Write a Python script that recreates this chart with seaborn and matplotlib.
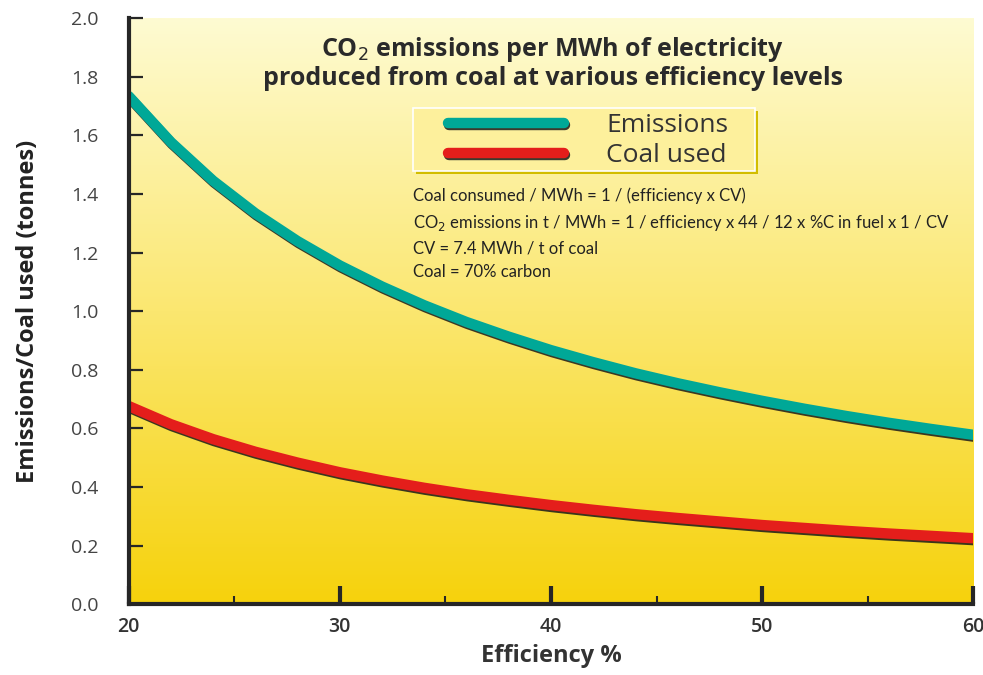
import numpy as np
import pandas as pd
import matplotlib
matplotlib.use("Agg")
import matplotlib.pyplot as plt
import matplotlib.patheffects as pe
from matplotlib.colors import LinearSegmentedColormap
from matplotlib.patches import Rectangle
import seaborn as sns

# values
efficiency = [20, 22, 24, 26, 28, 30, 32, 34, 36, 38, 40,
              42, 44, 46, 48, 50, 52, 54, 56, 58, 60]
emissions = [1.734, 1.577, 1.445, 1.334, 1.239, 1.156, 1.084, 1.020, 0.963, 0.913, 0.867,
             0.826, 0.788, 0.754, 0.723, 0.694, 0.667, 0.642, 0.619, 0.598, 0.578]
coal_used = [0.676, 0.614, 0.563, 0.520, 0.483, 0.450, 0.422, 0.397, 0.375, 0.356, 0.338,
             0.322, 0.307, 0.294, 0.282, 0.270, 0.260, 0.250, 0.241, 0.233, 0.225]

df = pd.DataFrame({
    "Efficiency": efficiency * 2,
    "Value": emissions + coal_used,
    "Series": ["Emissions"] * len(efficiency) + ["Coal used"] * len(efficiency),
})

sns.set_style("ticks")
plt.rcParams['font.family'] = ['Open Sans', 'DejaVu Sans']

fig = plt.figure(figsize=(9.83, 6.75), dpi=100)
ax = fig.add_axes([0.131, 0.105, 0.859, 0.868])

# gradient background
cmap = LinearSegmentedColormap.from_list("bg", ["#f6d20c", "#fbe770", "#fefbd2"])
grad = np.linspace(0, 1, 256).reshape(-1, 1)
ax.imshow(grad, extent=[20, 60, 0, 2.0], origin="lower", aspect="auto",
          cmap=cmap, zorder=0)

sns.lineplot(data=df, x="Efficiency", y="Value", hue="Series",
             palette={"Emissions": "#00a897", "Coal used": "#e41e1b"},
             linewidth=7.5, ax=ax, legend=False, zorder=3)

for line in ax.get_lines():
    line.set_solid_capstyle("round")
    line.set_path_effects([pe.SimpleLineShadow(offset=(0.8, -1.4), shadow_color="#1a1a1a", alpha=0.85),
                           pe.Normal()])

ax.set_xlim(20, 60)
ax.set_ylim(0, 2.0)
ax.set_xticks([20, 30, 40, 50, 60])
ax.set_xticks([25, 35, 45, 55], minor=True)
ax.set_yticks(np.arange(0, 2.01, 0.2))
ax.set_yticklabels([f"{v:.1f}" for v in np.arange(0, 2.01, 0.2)])
ax.tick_params(axis="y", which="major", direction="in", length=10, width=1.6,
               labelsize=14, labelcolor="#444444", pad=22)
ax.tick_params(axis="x", which="major", direction="in", length=13, width=3,
               labelsize=14, labelcolor="#333333", pad=9)
ax.tick_params(axis="x", which="minor", direction="in", length=6, width=1.5)
for lbl in ax.get_xticklabels():
    lbl.set_fontweight("semibold")

for s in ["top", "right"]:
    ax.spines[s].set_visible(False)
for s in ["left", "bottom"]:
    ax.spines[s].set_linewidth(3)
    ax.spines[s].set_zorder(5)

ax.set_xlabel("Efficiency %", fontsize=17, fontweight="bold", color="#333333", labelpad=5)
ax.set_ylabel("Emissions/Coal used (tonnes)", fontsize=17, fontweight="bold",
              color="#222222", labelpad=22)

# title inside plot
ax.text(0.502, 0.972, "CO$_2$ emissions per MWh of electricity\nproduced from coal at various efficiency levels",
        transform=ax.transAxes, ha="center", va="top", fontsize=18, fontweight="bold",
        color="#2a2a2a", linespacing=1.15, zorder=6)

# legend box with shadow
ax.add_patch(Rectangle((0.3401, 0.7339), 0.405, 0.1075, transform=ax.transAxes,
                       facecolor="#d2bd00", edgecolor="none", zorder=5))
ax.add_patch(Rectangle((0.3365, 0.7390), 0.405, 0.1075, transform=ax.transAxes,
                       facecolor="#fdf09c", edgecolor="white", linewidth=1.2, zorder=5))

leg = ax.legend(ax.get_lines()[:2], ["Emissions", "Coal used"],
                loc="upper left", bbox_to_anchor=(0.378, 0.838), fontsize=19,
                handlelength=4.4, handletextpad=1.6, borderpad=0, borderaxespad=0,
                labelspacing=0.18, frameon=False)
for t in leg.get_texts():
    t.set_color("#333333")
    t.set_fontweight("medium")
leg.set_zorder(6)

notes = ("Coal consumed / MWh = 1 / (efficiency x CV)\n"
         "CO$_2$ emissions in t / MWh = 1 / efficiency x 44 / 12 x %C in fuel x 1 / CV\n"
         "CV = 7.4 MWh / t of coal\n"
         "Coal = 70% carbon")
ax.text(0.3365, 0.712, notes, transform=ax.transAxes, ha="left", va="top",
        fontsize=12, family=["Lato", "DejaVu Sans"], color="#222222", linespacing=1.6, zorder=6)

fig.savefig("out.png", dpi=100)
